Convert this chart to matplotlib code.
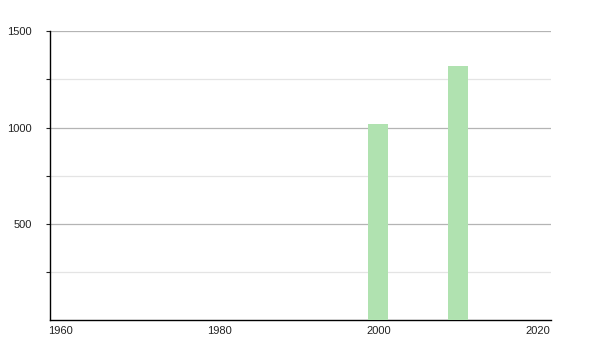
import matplotlib as mpl
mpl.use('Agg')
import matplotlib.pyplot as plt

years = [2000, 2010]
values = [1017, 1320]
xticks = [1960, 1980, 2000, 2020]
yticks_major = [500, 1000, 1500]
yticks_minor = [250, 750, 1250]

plt.rcParams['font.family'] = ['Liberation Sans', 'DejaVu Sans']

fig = plt.figure(figsize=(6.0, 3.5), dpi=100)
ax = fig.add_axes([0.0833, 0.0857, 0.835, 0.825])

ax.bar(years, values, width=2.5, color='#b0e2b0', zorder=3)

ax.set_xlim(1958.7, 2021.7)
ax.set_ylim(0, 1500)
ax.set_xticks(xticks)
ax.set_xticklabels([str(x) for x in xticks])
ax.set_yticks(yticks_major)
ax.set_yticks(yticks_minor, minor=True)
ax.grid(axis='y', which='major', color='#b4b4b4', linewidth=0.9, zorder=0)
ax.grid(axis='y', which='minor', color='#e4e4e4', linewidth=0.9, zorder=0)

ax.tick_params(axis='x', length=0, pad=4, labelsize=8, colors='#222222')
ax.tick_params(axis='y', which='both', length=3, width=0.8, pad=10, labelsize=8, colors='#222222')
ax.tick_params(axis='y', which='minor', labelleft=False)

for s in ['top', 'right']:
    ax.spines[s].set_visible(False)
ax.spines['left'].set_color('black')
ax.spines['bottom'].set_color('black')
ax.spines['left'].set_linewidth(1.0)
ax.spines['bottom'].set_linewidth(1.0)

fig.savefig('out.png', dpi=100)
